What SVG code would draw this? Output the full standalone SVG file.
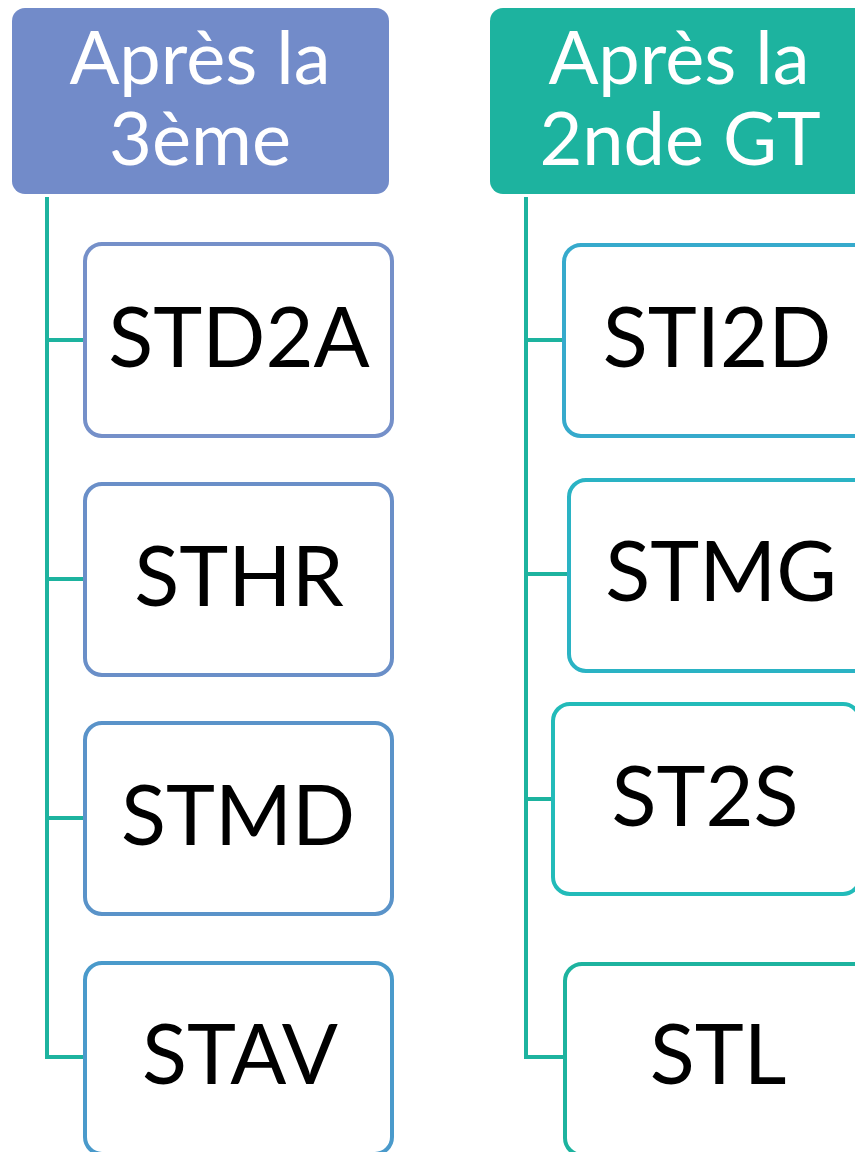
<svg xmlns="http://www.w3.org/2000/svg" width="855" height="1152" viewBox="0 0 855 1152">
<style>
.hdr{font-family:Lato,"Liberation Sans",sans-serif;font-size:74px;fill:#fff;text-anchor:middle}
.lbl{font-family:Lato,"Liberation Sans",sans-serif;font-size:83px;fill:#000;text-anchor:middle}
.box{fill:#fff;stroke-width:4}
.conn{fill:none;stroke:#1DB39F;stroke-width:4}
</style>
<rect width="855" height="1152" fill="#fff"/>
<g id="connectors">
<path class="conn" d="M47,197 V1058 M45,340 H84 M45,579 H84 M45,818 H84 M45,1057 H84"/>
<path class="conn" d="M526,197 V1058 M524,340 H562 M524,574 H568 M524,799 H552 M524,1057 H564"/>
</g>
<g id="h1"><rect x="12" y="8" width="377" height="186" rx="13" fill="#728BC9"/>
<text class="hdr" x="200" y="84">Après la</text><text class="hdr" x="200" y="165">3ème</text></g>
<g id="h2"><rect x="490" y="8" width="380" height="186" rx="13" fill="#1DB39F"/>
<text class="hdr" x="679" y="84">Après la</text><text class="hdr" x="680" y="165">2nde GT</text></g>
<g id="n1"><rect class="box" x="85" y="244" width="307" height="192" rx="17" stroke="#7590C9"/><text class="lbl" x="239" y="367">STD2A</text></g>
<g id="n2"><rect class="box" x="85" y="484" width="307" height="191" rx="17" stroke="#6A8FC8"/><text class="lbl" x="239" y="606">STHR</text></g>
<g id="n3"><rect class="box" x="85" y="723" width="307" height="191" rx="17" stroke="#5A93C9"/><text class="lbl" x="238" y="845">STMD</text></g>
<g id="n4"><rect class="box" x="85" y="963" width="307" height="191" rx="17" stroke="#4A9ACB"/><text class="lbl" x="240" y="1084">STAV</text></g>
<g id="n5"><rect class="box" x="564" y="245" width="307" height="191" rx="17" stroke="#36AACC"/><text class="lbl" x="717" y="367">STI2D</text></g>
<g id="n6"><rect class="box" x="569" y="480" width="307" height="191" rx="17" stroke="#2AB3C4"/><text class="lbl" x="721" y="601">STMG</text></g>
<g id="n7"><rect class="box" x="553" y="704" width="307" height="190" rx="17" stroke="#22BBB9"/><text class="lbl" x="705" y="826">ST2S</text></g>
<g id="n8"><rect class="box" x="565" y="964" width="307" height="191" rx="17" stroke="#1DB39F"/><text class="lbl" x="718" y="1084">STL</text></g>
</svg>
